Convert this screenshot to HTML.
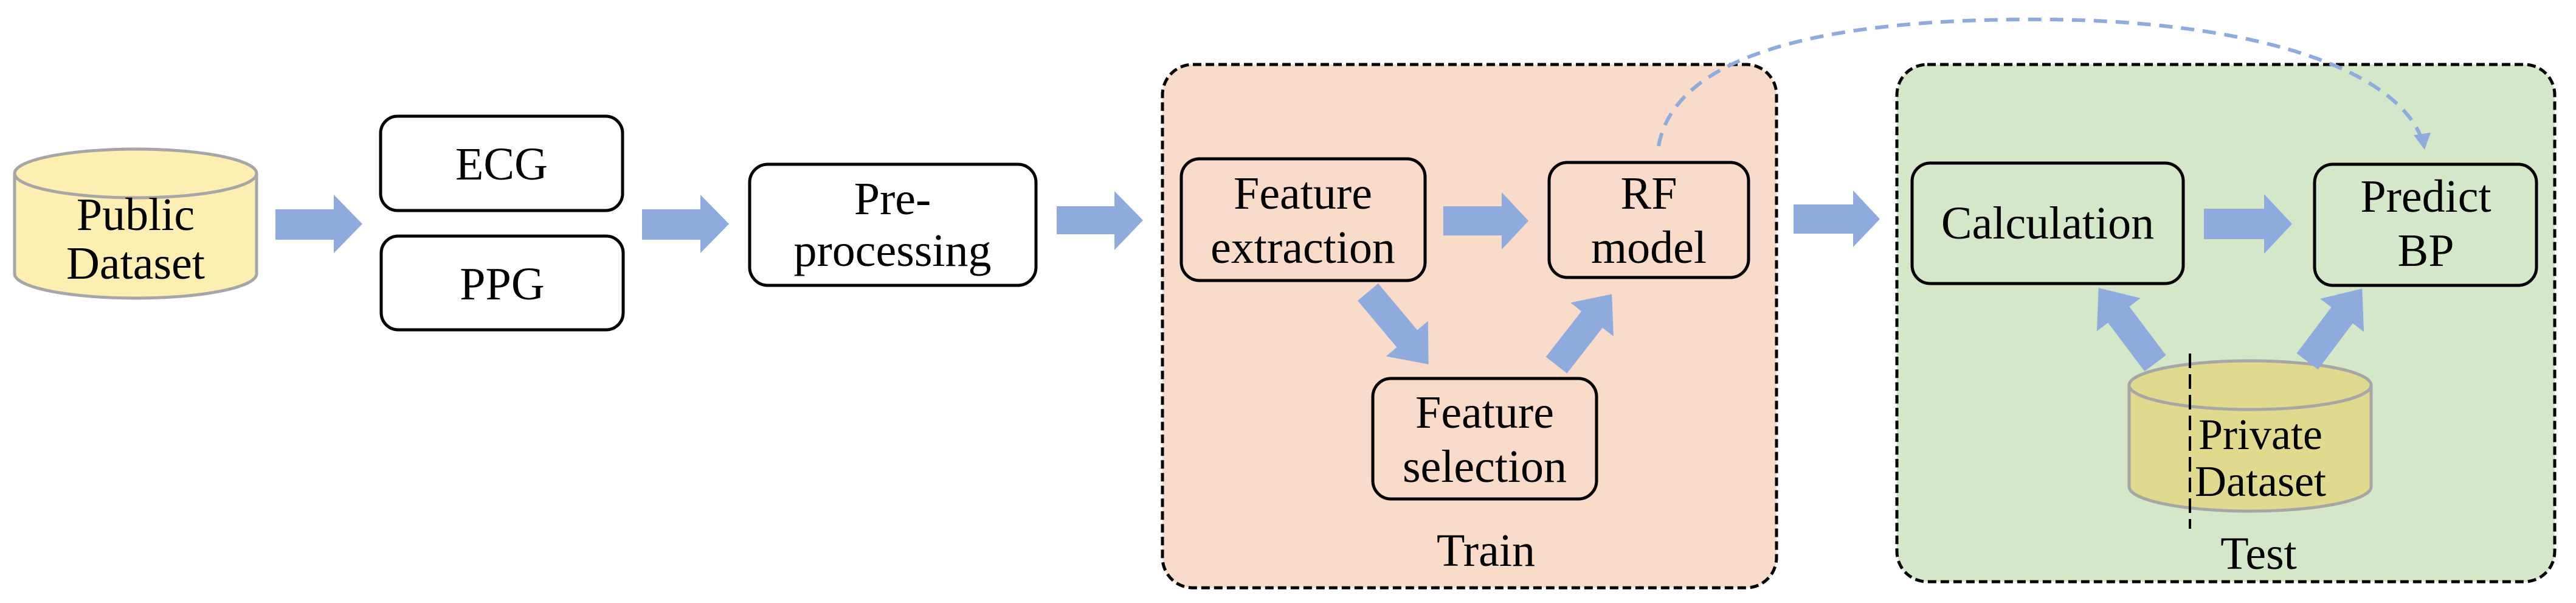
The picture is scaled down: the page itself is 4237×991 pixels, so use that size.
<!DOCTYPE html>
<html><head><meta charset="utf-8"><style>
html,body{margin:0;padding:0;background:#fff;}
svg{display:block;}
svg text{font-family:"Liberation Serif","DejaVu Serif","Times New Roman",serif;font-size:76px;fill:#000;text-anchor:middle;}
</style></head><body>
<svg width="4237" height="991" viewBox="0 0 4237 991" xmlns="http://www.w3.org/2000/svg" font-family="Liberation Serif, DejaVu Serif, serif">
<!-- containers -->
<rect x="1912" y="106" width="1010" height="860" rx="50" fill="#f8dbc9" stroke="#000" stroke-width="5" stroke-dasharray="14,7"/>
<rect x="3120" y="106" width="1082" height="850" rx="50" fill="#d4e7c8" stroke="#000" stroke-width="5" stroke-dasharray="14,7"/>

<!-- Public dataset cylinder -->
<path d="M24,285 L24,450 A199,40 0 0 0 422,450 L422,285" fill="#fdeeb2" stroke="#a6a6a6" stroke-width="5"/>
<ellipse cx="223" cy="285" rx="199" ry="40" fill="#fdeeb2" stroke="#a6a6a6" stroke-width="5"/>
<text x="223" y="378" font-family="Liberation Serif, DejaVu Serif, serif">Public</text>
<text x="223" y="458" font-family="Liberation Serif, DejaVu Serif, serif">Dataset</text>

<!-- boxes -->
<g fill="#fff" stroke="#000" stroke-width="5">
<rect x="626" y="191" width="398" height="155" rx="28"/>
<rect x="627" y="388" width="398" height="154" rx="28"/>
<rect x="1233" y="270" width="471" height="199" rx="30"/>
</g>
<g font-family="Liberation Serif, DejaVu Serif, serif">
<text x="825" y="295">ECG</text>
<text x="826" y="492">PPG</text>
<text x="1468" y="352">Pre-</text>
<text x="1468" y="437">processing</text>
</g>

<g fill="#f8dbc9" stroke="#000" stroke-width="5">
<rect x="1943" y="261" width="401" height="200" rx="30"/>
<rect x="2548" y="267" width="328" height="189" rx="30"/>
<rect x="2258" y="622" width="368" height="198" rx="30"/>
</g>
<g font-family="Liberation Serif, DejaVu Serif, serif">
<text x="2143" y="343">Feature</text>
<text x="2143" y="432">extraction</text>
<text x="2712" y="343">RF</text>
<text x="2712" y="432">model</text>
<text x="2442" y="703">Feature</text>
<text x="2442" y="792">selection</text>
<text x="2444" y="930">Train</text>
</g>

<g fill="#d4e7c8" stroke="#000" stroke-width="5">
<rect x="3145" y="268" width="446" height="198" rx="30"/>
<rect x="3807" y="270" width="365" height="199" rx="30"/>
</g>
<g font-family="Liberation Serif, DejaVu Serif, serif">
<text x="3368" y="392">Calculation</text>
<text x="3990" y="348">Predict</text>
<text x="3990" y="437">BP</text>
<text x="3715" y="935">Test</text>
</g>

<!-- Private cylinder -->
<path d="M3502,633 L3502,800 A199,40 0 0 0 3900,800 L3900,633" fill="#dfda8d" stroke="#a6a6a6" stroke-width="5"/>
<ellipse cx="3701" cy="633" rx="199" ry="40" fill="#dfda8d" stroke="#a6a6a6" stroke-width="5"/>
<text x="3718" y="738" style="font-size:72px" font-family="Liberation Serif, DejaVu Serif, serif">Private</text>
<text x="3718" y="815" style="font-size:72px" font-family="Liberation Serif, DejaVu Serif, serif">Dataset</text>
<line x1="3602" y1="581" x2="3602" y2="869" stroke="#000" stroke-width="4" stroke-dasharray="24,10"/>

<!-- horizontal arrows -->
<g fill="#8faadc">
<polygon points="453,344 549,344 549,320 596,368 549,416 549,394 453,394"/>
<polygon points="1056,344 1152,344 1152,320 1199,368 1152,416 1152,394 1056,394"/>
<polygon points="1738,339 1833,339 1833,314 1880,362 1833,411 1833,385 1738,385"/>
<polygon points="2374,339 2470,339 2470,316 2514,363 2470,410 2470,387 2374,387"/>
<polygon points="2950,336 3048,336 3048,313 3092,360 3048,406 3048,384 2950,384"/>
<polygon points="3625,343 3724,343 3724,319 3770,368 3724,417 3724,393 3625,393"/>
<g transform="translate(2250,480) rotate(50)"><polygon points="0,-22 100,-22 100,-45 155,0 100,45 100,22 0,22"/></g>
<g transform="translate(2560,600) rotate(-52)"><polygon points="0,-22 95,-22 95,-45 148,0 95,45 95,22 0,22"/></g>
<g transform="translate(3545,597) rotate(-127)"><polygon points="0,-22 100,-22 100,-45 155,0 100,45 100,22 0,22"/></g>
<g transform="translate(3795,594) rotate(-53)"><polygon points="0,-22 95,-22 95,-45 150,0 95,45 95,22 0,22"/></g>
</g>

<!-- dashed curve -->
<path d="M2728,240 C2760,60 3100,30 3368,32 C3700,35 3940,110 3984,230" fill="none" stroke="#8faadc" stroke-width="6" stroke-dasharray="22,14"/>
<polygon points="3970,222 3998,218 3988,246" fill="#8faadc"/>
</svg>
</body></html>
